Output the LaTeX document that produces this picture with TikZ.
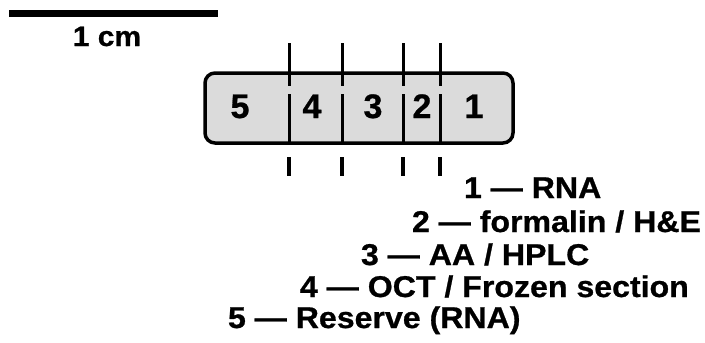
\documentclass[tikz,border=0pt]{standalone}
\usepackage{fontspec}
\setmainfont{Liberation Sans}[FakeBold=0.8]
\newfontfamily\legfont{Liberation Sans}[FakeStretch=1.07,FakeBold=0.8]
\begin{document}
\begin{tikzpicture}[x=1pt,y=-1pt,
  every node/.style={inner sep=0pt,outer sep=0pt},
  sample/.style={draw=black,line width=3.5pt,rounded corners=10pt,fill=black!14,
    minimum width=308pt,minimum height=70pt},
  digit/.style={anchor=base,font=\fontsize{34}{36}\selectfont\bfseries},
  leg/.style={anchor=base west,font=\legfont\fontsize{30}{33}\selectfont\bfseries},
  cut/.style={line width=3pt},
  tick/.style={line width=4.5pt}]
\useasboundingbox (0,0) rectangle (705,343);
% scale bar
\coordinate (barL) at (9,13.5);
\coordinate (barR) at (218,13.5);
\draw[line width=6.5pt] (barL) -- (barR);
\node[anchor=base,font=\legfont\fontsize{28}{30}\selectfont\bfseries] (cm) at (107,46) {1 cm};
% sample block
\node[sample] (box) at (359,108) {};
\node[digit] (d5) at (240,118) {5};
\node[digit] (d4) at (312,118) {4};
\node[digit] (d3) at (373,118) {3};
\node[digit] (d2) at (422,118) {2};
\node[digit] (d1) at (474,118) {1};
% cut lines
\foreach \x [count=\i] in {289,342,403,440}{
  \coordinate (t\i) at (\x,43);
  \coordinate (m\i) at (\x,86);
  \coordinate (n\i) at (\x,94);
  \coordinate (b\i) at (\x,143);
  \coordinate (u\i) at (\x,157);
  \coordinate (v\i) at (\x,176);
  \draw[cut] (t\i) -- (m\i);
  \draw[cut] (n\i) -- (b\i);
  \draw[tick] (u\i) -- (v\i);
}
% legend
\node[leg] (l1) at (464,198) {1 — RNA};
\node[leg] (l2) at (412,232) {2 — formalin / H\&E};
\node[leg] (l3) at (361,265) {3 — AA / HPLC};
\node[leg] (l4) at (300,297) {4 — OCT / Frozen section};
\node[leg] (l5) at (228,328) {5 — Reserve (RNA)};
\end{tikzpicture}
\end{document}
